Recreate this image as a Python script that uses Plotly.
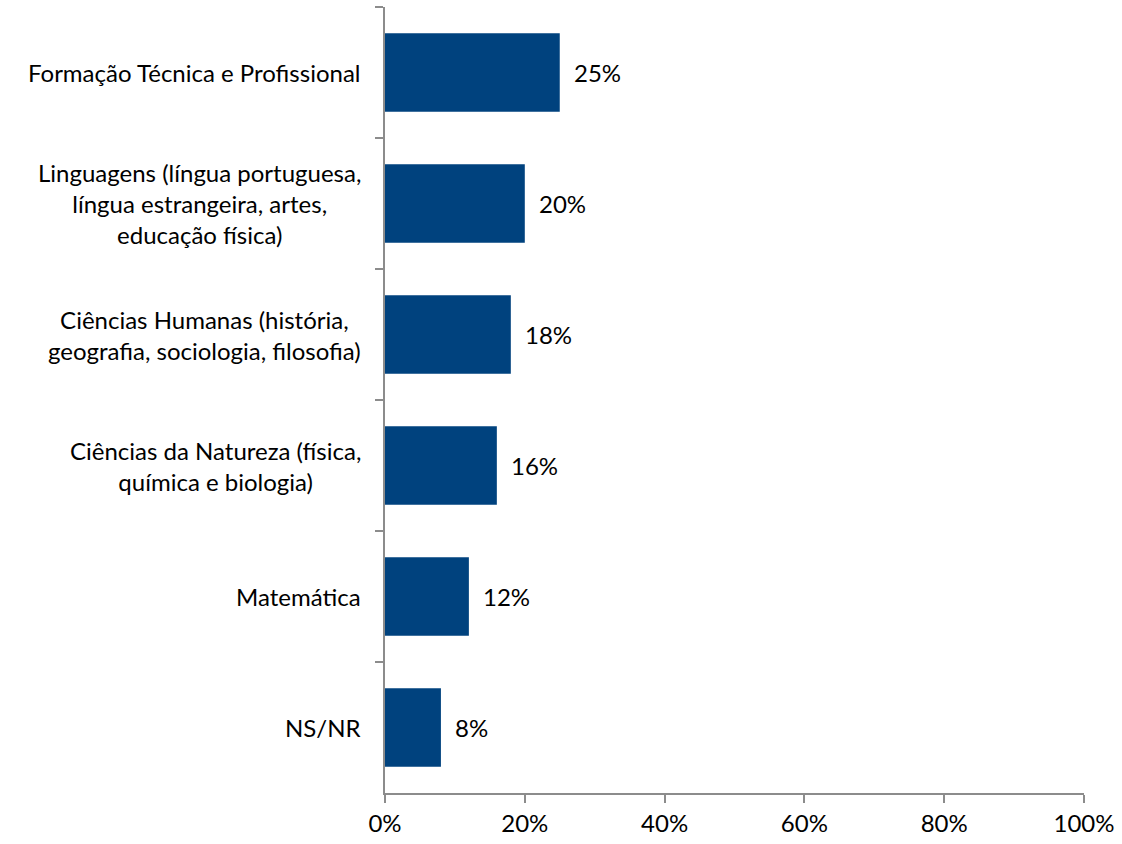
import plotly.graph_objects as go

categories = [
    "Formação Técnica e Profissional",
    "Linguagens (língua portuguesa,<br>língua estrangeira, artes,<br>educação física)",
    "Ciências Humanas (história,<br>geografia, sociologia, filosofia)",
    "Ciências da Natureza (física,<br>química e biologia)",
    "Matemática",
    "NS/NR",
]
values = [25, 20, 18, 16, 12, 8]
x_ticks = [0, 20, 40, 60, 80, 100]
x_tick_labels = ["0%", "20%", "40%", "60%", "80%", "100%"]

BAR = "#00427E"
AXIS = "#8C8C8C"
FONT = "Lato"
FS = 24

fig = go.Figure(go.Bar(
    x=values, y=categories, orientation="h",
    marker=dict(color=BAR, line=dict(width=0)),
    hoverinfo="skip",
))

annotations = []
for c, v in zip(categories, values):
    annotations.append(dict(
        x=v, y=c, xref="x", yref="y", text=f"{v}%", showarrow=False,
        xanchor="left", yanchor="middle", xshift=12,
        font=dict(family=FONT, size=FS, color="#000000"),
    ))
    annotations.append(dict(
        x=0, y=c, xref="paper", yref="y", text=c, showarrow=False,
        xanchor="right", yanchor="middle", align="center", xshift=-22,
        font=dict(family=FONT, size=FS, color="#000000"),
    ))

fig.update_layout(
    width=1122, height=844,
    margin=dict(l=385, r=33, t=7, b=47),
    paper_bgcolor="white", plot_bgcolor="white",
    bargap=0.4,
    showlegend=False,
    annotations=annotations,
    font=dict(family=FONT, size=FS, color="#000000"),
)
fig.update_xaxes(
    range=[0, 100], tickvals=x_ticks, ticktext=x_tick_labels,
    showgrid=False, zeroline=False,
    showline=True, linecolor=AXIS, linewidth=2,
    ticks="outside", ticklen=8, tickwidth=2, tickcolor=AXIS,
    tickfont=dict(family=FONT, size=FS, color="#000000"),
    ticklabeloverflow="allow",
)
fig.update_yaxes(
    categoryorder="array", categoryarray=categories, autorange="reversed",
    showticklabels=False, showgrid=False, zeroline=False,
    showline=True, linecolor=AXIS, linewidth=2,
    ticks="outside", ticklen=8, tickwidth=2, tickcolor=AXIS,
    tickson="boundaries",
)

fig.write_html(
    "out.html",
    config={"displayModeBar": False},
    post_script="document.body.style.margin='0';document.body.style.overflow='hidden';",
)
